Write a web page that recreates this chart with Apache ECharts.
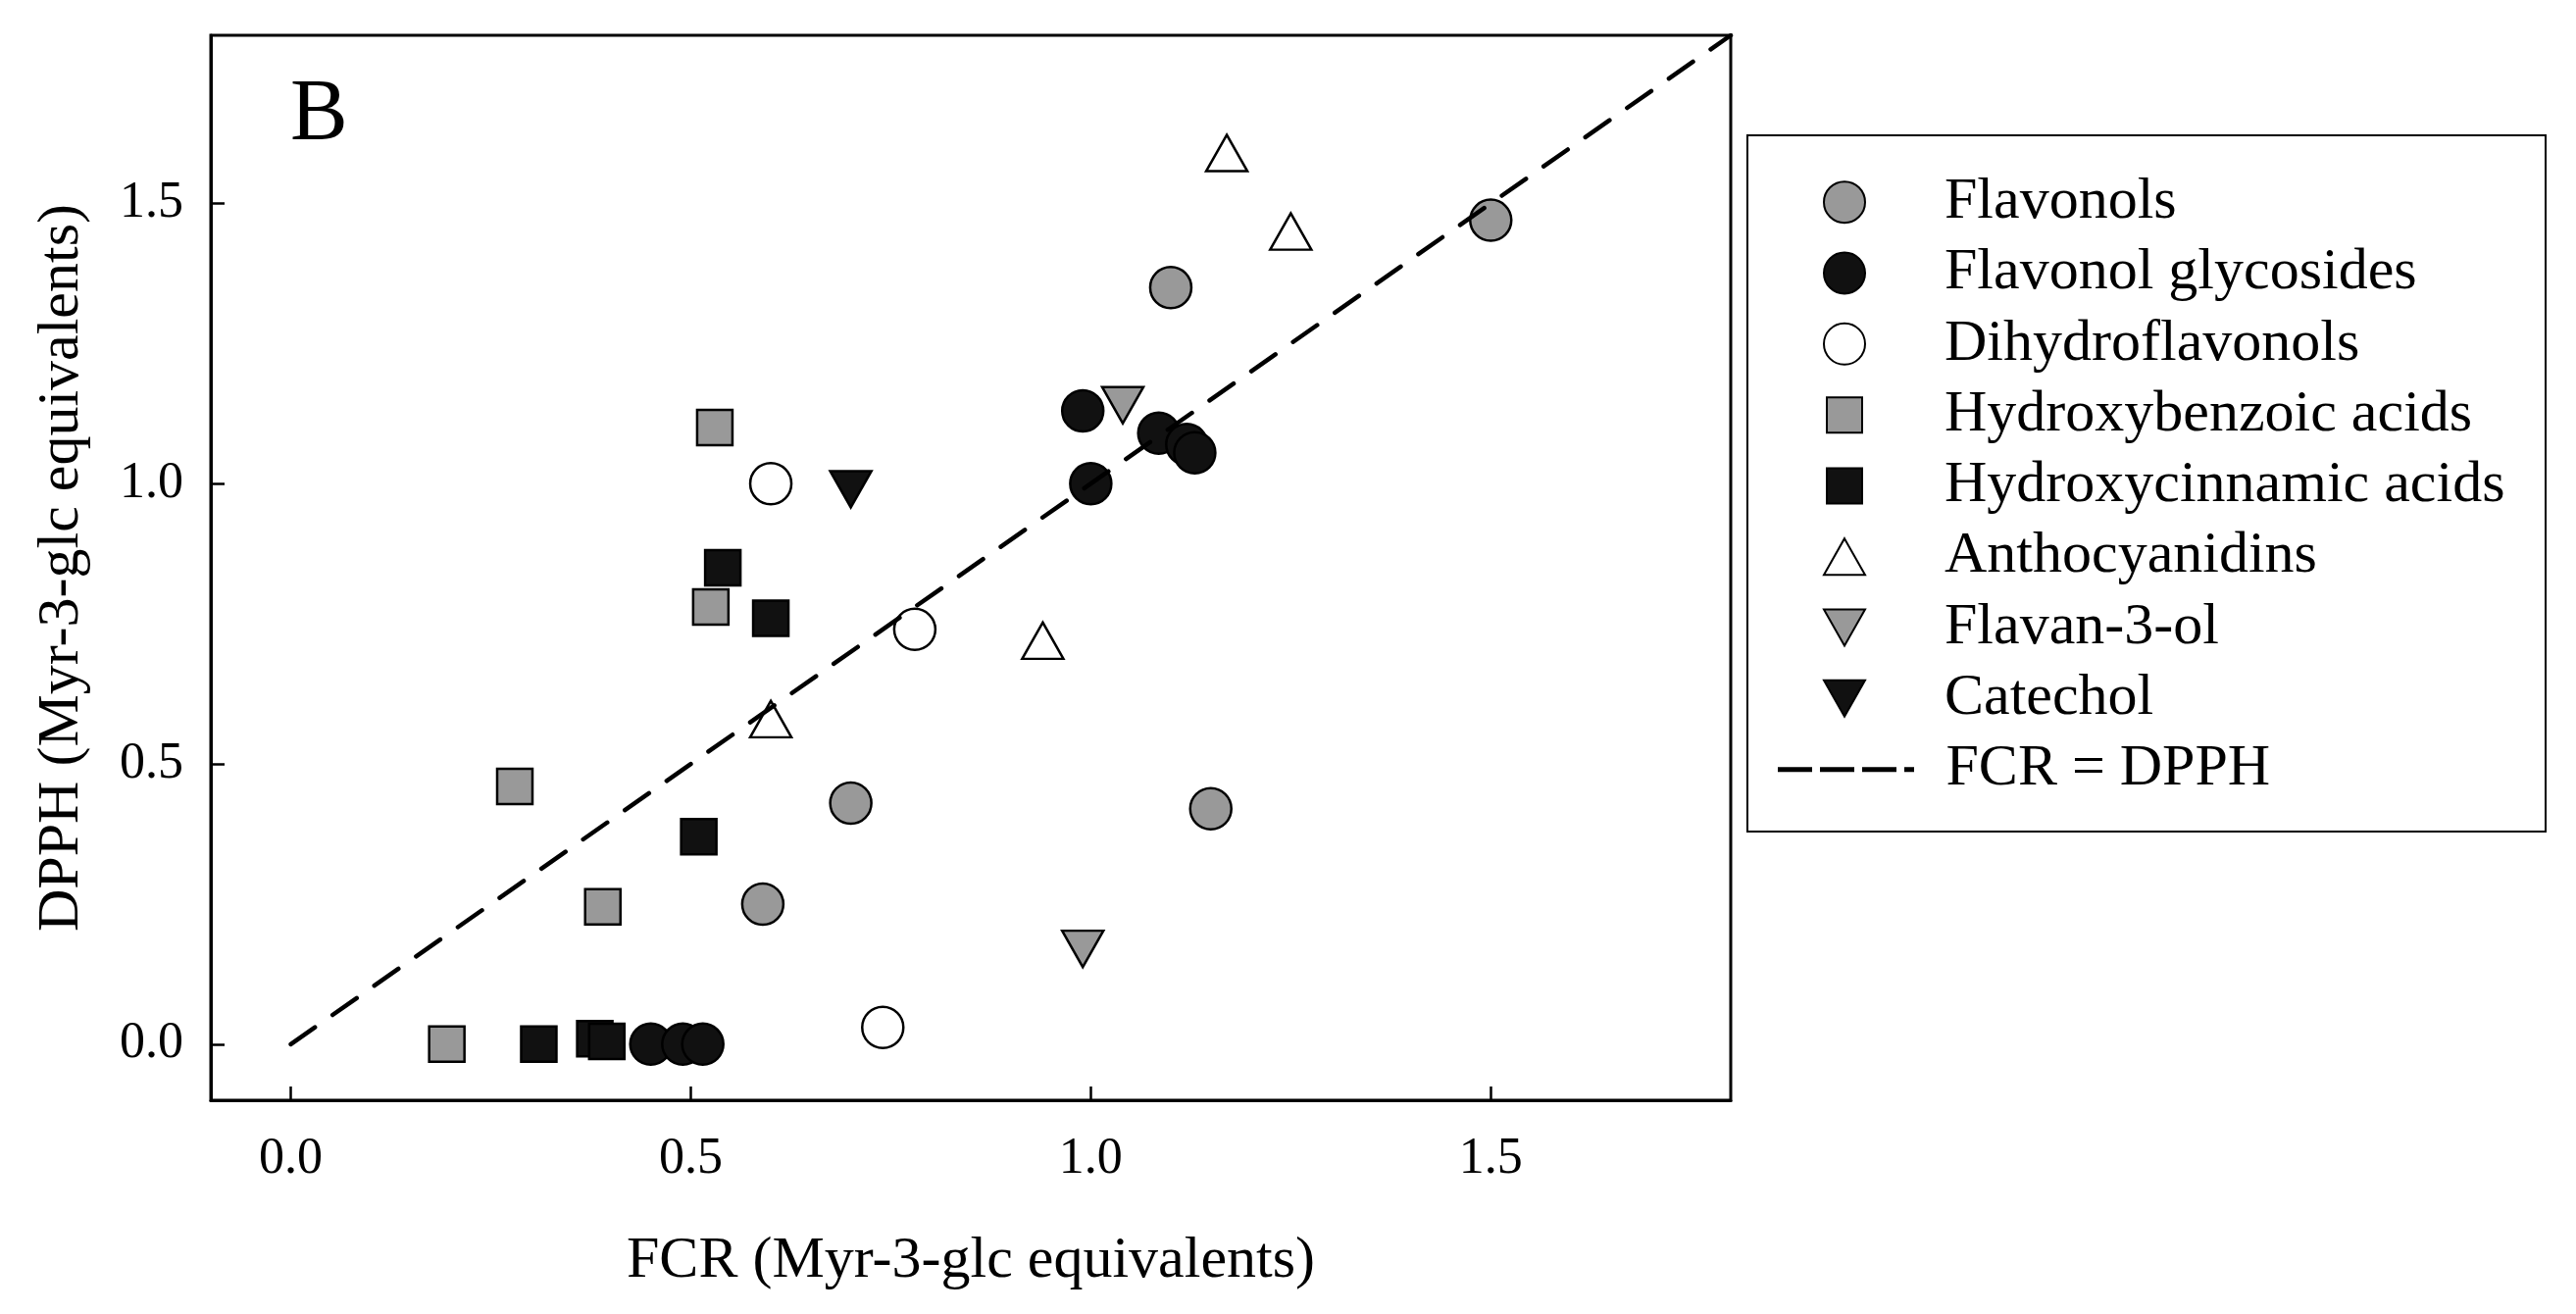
<!DOCTYPE html>
<html>
<head>
<meta charset="utf-8">
<script src="https://cdn.jsdelivr.net/npm/echarts@6/dist/echarts.min.js"></script>
<style>
  html, body { margin: 0; padding: 0; background: #fff; }
  #chart { width: 2627px; height: 1340px; }
</style>
</head>
<body>
<div id="chart"></div>
<script>
// values (FCR on x, DPPH on y)
const flavonolsX = [1.50, 1.10, 0.70, 1.15, 0.59];
const flavonolsY = [1.47, 1.35, 0.43, 0.42, 0.25];

const glycosidesX = [0.99, 1.085, 1.12, 1.13, 1.00, 0.45, 0.49, 0.515];
const glycosidesY = [1.13, 1.09, 1.07, 1.055, 1.00, 0.00, 0.00, 0.00];

const dihydroX = [0.60, 0.78, 0.74];
const dihydroY = [1.00, 0.74, 0.03];

const benzoicX = [0.53, 0.525, 0.28, 0.39, 0.195];
const benzoicY = [1.10, 0.78, 0.46, 0.245, 0.00];

const cinnamicX = [0.54, 0.60, 0.51, 0.31, 0.38, 0.395];
const cinnamicY = [0.85, 0.76, 0.37, 0.00, 0.01, 0.005];

const anthoX = [1.17, 1.25, 0.94, 0.60];
const anthoY = [1.59, 1.45, 0.72, 0.58];

const flavanX = [1.04, 0.99];
const flavanY = [1.14, 0.17];

const catecholX = [0.70];
const catecholY = [0.99];

const lineX = [0, 1.8];
const lineY = [0, 1.8];

const axisTicks = [0.0, 0.5, 1.0, 1.5];

const seriesNames = ['Flavonols', 'Flavonol glycosides', 'Dihydroflavonols',
  'Hydroxybenzoic acids', 'Hydroxycinnamic acids', 'Anthocyanidins',
  'Flavan-3-ol', 'Catechol', 'FCR = DPPH'];

const FONT = 'Liberation Serif';
const GRAY = '#999999';
const BLACK = '#111111';
const triUp = 'path://M21,0L42,37L0,37Z';
const triDown = 'path://M0,0L42,0L21,37Z';

const pairs = (xs, ys) => xs.map((x, i) => [x, ys[i]]);

function scatter(name, xs, ys, symbol, size, fill) {
  return {
    name: name,
    type: 'scatter',
    data: pairs(xs, ys),
    symbol: symbol,
    symbolSize: size,
    itemStyle: { color: fill, borderColor: '#000', borderWidth: 2.5, opacity: 1 },
    emphasis: { disabled: true },
    z: 3
  };
}

const labelStyle = { fontFamily: FONT, fontSize: 60, color: '#000', lineHeight: 72.3 };

function legendBlock(names, w, h, top, padLeft) {
  return {
    data: names,
    orient: 'vertical',
    left: 1880 - w / 2,
    top: top,
    itemWidth: w,
    itemHeight: h,
    itemGap: 0,
    padding: 0,
    selectedMode: false,
    textStyle: Object.assign({}, labelStyle, { padding: [0, 0, 0, padLeft] })
  };
}

const lineLegend = legendBlock(seriesNames.slice(8), 139, 42, 748.5, 27.5);
lineLegend.itemStyle = { opacity: 0, color: 'transparent', borderWidth: 0 };
lineLegend.lineStyle = { color: '#000', width: 5, type: [35, 8], cap: 'butt' };

const chart = echarts.init(document.getElementById('chart'));

chart.setOption({
  backgroundColor: '#fff',
  animation: false,
  grid: {
    left: 215, right: 862, top: 36, bottom: 218,
    show: true, borderColor: '#000', borderWidth: 3
  },
  xAxis: {
    type: 'value',
    min: -0.1, max: 1.8,
    interval: 0.1,
    name: 'FCR (Myr-3-glc equivalents)',
    nameLocation: 'middle',
    nameGap: 134,
    nameTextStyle: { fontFamily: FONT, fontSize: 60, color: '#000' },
    axisLine: { show: true, onZero: false, lineStyle: { color: '#000', width: 3 } },
    axisTick: {
      show: true, inside: true, length: 14, lineStyle: { color: '#000', width: 2.5 },
      customValues: axisTicks
    },
    axisLabel: {
      fontFamily: FONT, fontSize: 52, color: '#000', margin: 34,
      customValues: axisTicks,
      formatter: v => v.toFixed(1)
    },
    splitLine: { show: false }
  },
  yAxis: {
    type: 'value',
    min: -0.1, max: 1.8,
    interval: 0.1,
    name: 'DPPH (Myr-3-glc equivalents)',
    nameLocation: 'middle',
    nameGap: 122,
    nameTextStyle: { fontFamily: FONT, fontSize: 60, color: '#000' },
    axisLine: { show: true, onZero: false, lineStyle: { color: '#000', width: 3 } },
    axisTick: {
      show: true, inside: true, length: 14, lineStyle: { color: '#000', width: 2.5 },
      customValues: axisTicks
    },
    axisLabel: {
      fontFamily: FONT, fontSize: 52, color: '#000', margin: 28,
      customValues: axisTicks,
      formatter: v => v.toFixed(1)
    },
    splitLine: { show: false }
  },
  legend: [
    legendBlock(seriesNames.slice(0, 3), 42, 42, 170, 76),
    legendBlock(seriesNames.slice(3, 5), 36, 36, 387, 79),
    legendBlock(seriesNames.slice(5, 8), 42, 37, 531.5, 76),
    lineLegend
  ],
  graphic: [
    {
      type: 'rect',
      shape: { x: 1782, y: 138, width: 814, height: 710 },
      style: { fill: 'none', stroke: '#000', lineWidth: 2 },
      z: 1
    },
    {
      type: 'text',
      style: {
        x: 296, y: 118, text: 'B', fill: '#000',
        font: '88px "' + FONT + '"', verticalAlign: 'middle', align: 'left'
      }
    }
  ],
  series: [
    scatter(seriesNames[0], flavonolsX, flavonolsY, 'circle', 42, GRAY),
    scatter(seriesNames[1], glycosidesX, glycosidesY, 'circle', 42, BLACK),
    scatter(seriesNames[2], dihydroX, dihydroY, 'circle', 42, '#fff'),
    scatter(seriesNames[3], benzoicX, benzoicY, 'rect', 36, GRAY),
    scatter(seriesNames[4], cinnamicX, cinnamicY, 'rect', 36, BLACK),
    scatter(seriesNames[5], anthoX, anthoY, triUp, [42, 37], '#fff'),
    scatter(seriesNames[6], flavanX, flavanY, triDown, [42, 37], GRAY),
    scatter(seriesNames[7], catecholX, catecholY, triDown, [42, 37], BLACK),
    {
      name: seriesNames[8],
      type: 'line',
      data: pairs(lineX, lineY),
      symbol: 'none',
      itemStyle: { color: '#000' },
      lineStyle: { color: '#000', width: 4.5, type: [30, 22], cap: 'round' },
      emphasis: { disabled: true },
      z: 4
    }
  ]
});
</script>
</body>
</html>
